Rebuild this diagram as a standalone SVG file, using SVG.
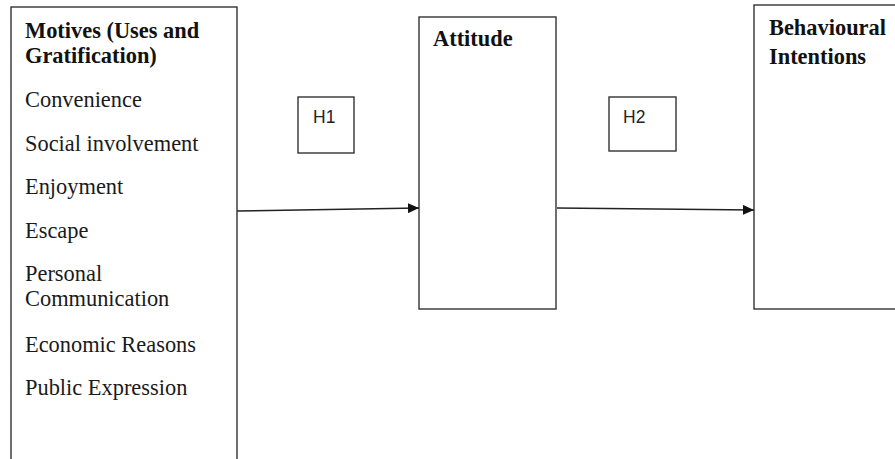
<svg xmlns="http://www.w3.org/2000/svg" width="895" height="459" viewBox="0 0 895 459">
<style>
.box{fill:#ffffff;stroke:#333333;stroke-width:1.4}
.hbox{fill:#ffffff;stroke:#333333;stroke-width:1.4}
.t{font-family:"Liberation Serif","Times New Roman",serif;font-size:22.4px;fill:#1a1a1a}
.b{font-family:"Liberation Serif","Times New Roman",serif;font-size:22.4px;font-weight:bold;fill:#111111}
.h{font-family:"Liberation Sans",Arial,sans-serif;font-size:17.5px;fill:#222222}
.c{stroke:#222222;stroke-width:1.4;fill:none}
</style>
<defs>
<marker id="arr" markerUnits="userSpaceOnUse" markerWidth="12" markerHeight="10" refX="11" refY="5" orient="auto">
<path d="M0,0 L11,5 L0,10 Z" fill="#111111"/>
</marker>
</defs>
<rect width="895" height="459" fill="#ffffff"/>
<g id="motives">
<rect class="box" x="11" y="7" width="226" height="470"/>
<text class="b" x="25" y="38">Motives (Uses and</text>
<text class="b" x="25" y="63">Gratification)</text>
<text class="t" x="25" y="107">Convenience</text>
<text class="t" x="25" y="151">Social involvement</text>
<text class="t" x="25" y="194">Enjoyment</text>
<text class="t" x="25" y="238">Escape</text>
<text class="t" x="25" y="281">Personal</text>
<text class="t" x="25" y="306">Communication</text>
<text class="t" x="25" y="352">Economic Reasons</text>
<text class="t" x="25" y="395">Public Expression</text>
</g>
<g id="attitude">
<rect class="box" x="419" y="17" width="137" height="292"/>
<text class="b" x="433" y="46">Attitude</text>
</g>
<g id="intentions">
<rect class="box" x="754" y="5" width="160" height="304"/>
<text class="b" x="769" y="35">Behavioural</text>
<text class="b" x="769" y="64">Intentions</text>
</g>
<g id="h1">
<rect class="hbox" x="298" y="97" width="56" height="56"/>
<text class="h" x="313" y="123">H1</text>
</g>
<g id="h2">
<rect class="hbox" x="609" y="97" width="67" height="54"/>
<text class="h" x="623" y="123">H2</text>
</g>
<g id="connectors">
<line class="c" x1="237" y1="211" x2="419" y2="208" marker-end="url(#arr)"/>
<line class="c" x1="557" y1="208" x2="754" y2="210" marker-end="url(#arr)"/>
</g>
</svg>
